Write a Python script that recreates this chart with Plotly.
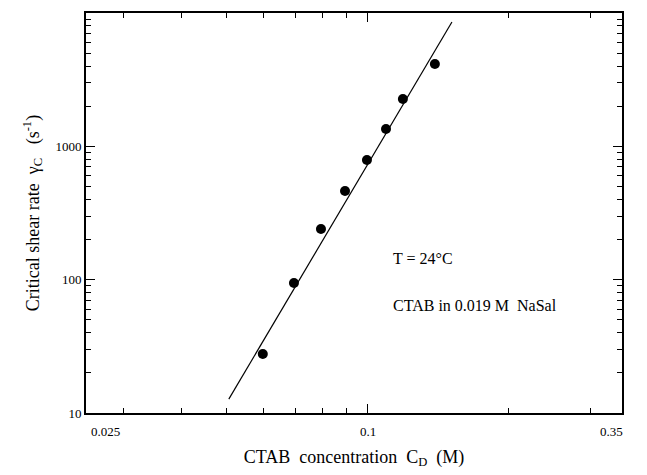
import math
import plotly.graph_objects as go

# Data
conc = [0.0597, 0.0696, 0.0795, 0.0895, 0.0997, 0.1095, 0.119, 0.1393]
shear = [27.7, 94.5, 240, 462, 791, 1350, 2266, 4150]
fit_conc = [0.0505, 0.1515]
fit_shear = [12.7, 8570]

x_label_vals = [0.025, 0.1, 0.35]
x_label_text = ["0.025", "0.1", "0.35"]

FONT = "Liberation Serif"
XR = [math.log10(0.025), math.log10(0.35)]
YR = [0.9998, 4.0002]

fig = go.Figure()
fig.add_trace(go.Scatter(x=fit_conc, y=fit_shear, mode="lines",
                         line=dict(color="black", width=1.2), showlegend=False))
fig.add_trace(go.Scatter(x=conc, y=shear, mode="markers",
                         marker=dict(color="black", size=10), showlegend=False))
fig.add_trace(go.Scatter(x=[], y=[], xaxis="x2", yaxis="y2", showlegend=False))

base = dict(showgrid=False, zeroline=False, showline=True, linecolor="black",
            linewidth=2, mirror="ticks", ticks="inside", tickcolor="black",
            tickwidth=1, type="log", automargin=False)

fig.update_layout(
    # main axes: every digit tick (short)
    xaxis=dict(range=XR, dtick="D1", ticklen=5, showticklabels=False,
               title=dict(text="CTAB  concentration  C<sub>D</sub>  (M)",
                          font=dict(family=FONT, size=18, color="black"), standoff=36),
               **base),
    yaxis=dict(range=YR, dtick="D1", ticklen=5, showticklabels=False,
               title=dict(text="Critical shear rate  γ<sub>C</sub>   (s<sup>-1</sup>)",
                          font=dict(family=FONT, size=18, color="black"), standoff=40),
               **base),
    # overlay axes: decade ticks (long) and y labels
    xaxis2=dict(range=XR, dtick=1, ticklen=9, showticklabels=False,
                overlaying="x", side="bottom", anchor="y", **base),
    yaxis2=dict(range=YR, dtick=1, ticklen=9, exponentformat="none",
                tickfont=dict(family=FONT, size=13, color="black"),
                overlaying="y", side="left", anchor="x", **base),
)

# x tick labels placed as annotations (offset like the original)
shifts = [19, 0, -11]
for v, t, s in zip(x_label_vals, x_label_text, shifts):
    fig.add_annotation(x=math.log10(v), y=0, xref="x", yref="paper", yanchor="top",
                       yshift=-9, xshift=s, text=t, showarrow=False,
                       font=dict(family=FONT, size=13, color="black"))

fig.add_annotation(x=math.log10(0.112), y=math.log10(145), xref="x", yref="y",
                   xanchor="left", text="T = 24°C", showarrow=False,
                   font=dict(family=FONT, size=16, color="black"))
fig.add_annotation(x=math.log10(0.112), y=math.log10(64), xref="x", yref="y",
                   xanchor="left", text="CTAB in 0.019 M &nbsp;NaSal", showarrow=False,
                   font=dict(family=FONT, size=16, color="black"))

fig.update_layout(width=647, height=475, margin=dict(l=78, r=33, t=5, b=70),
                  paper_bgcolor="white", plot_bgcolor="white",
                  font=dict(family=FONT, color="black"))

fig.write_html("out.html")
